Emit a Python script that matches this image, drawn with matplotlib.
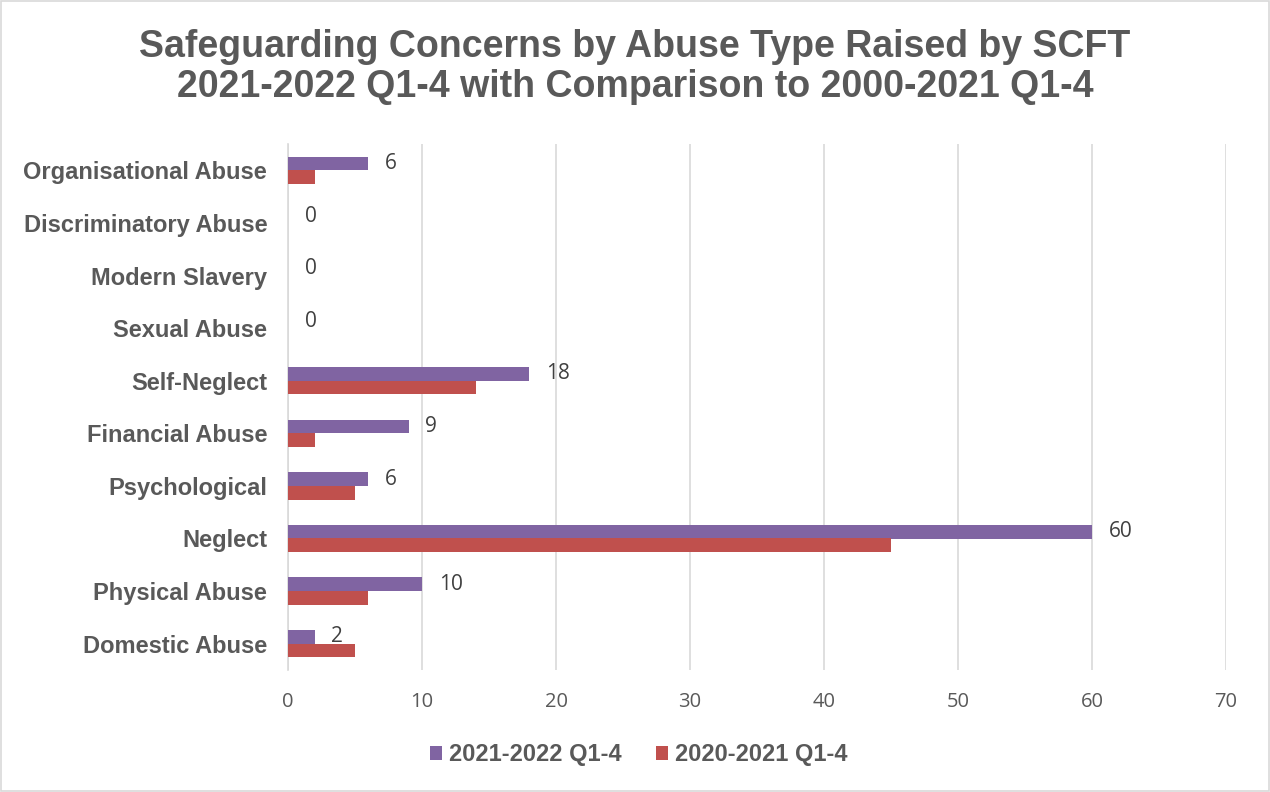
import matplotlib
matplotlib.use("Agg")
import matplotlib.pyplot as plt
import numpy as np

CATEGORIES = [
    "Domestic Abuse", "Physical Abuse", "Neglect", "Psychological",
    "Financial Abuse", "Self-Neglect", "Sexual Abuse", "Modern Slavery",
    "Discriminatory Abuse", "Organisational Abuse",
]
CURRENT = [2, 10, 60, 6, 9, 18, 0, 0, 0, 6]    # 2021-2022 Q1-4
PREVIOUS = [5, 6, 45, 5, 2, 14, 0, 0, 0, 2]    # 2020-2021 Q1-4
X_TICKS = [0, 10, 20, 30, 40, 50, 60, 70]

PURPLE = "#8064A2"
RED = "#C0504D"
GREY = "#595959"
BOLD = ["Liberation Sans", "DejaVu Sans"]
PLAIN = ["Open Sans", "DejaVu Sans"]

fig = plt.figure(figsize=(12.7, 7.92), dpi=100)
ax = fig.add_axes([288 / 1270, 1 - 670 / 792, (1226 - 288) / 1270, (670 - 144) / 792])

y = np.arange(len(CATEGORIES))
h = 0.26
ax.barh(y + h / 2, CURRENT, height=h, color=PURPLE, linewidth=0,
        zorder=3, label="2021-2022 Q1-4")
ax.barh(y - h / 2, PREVIOUS, height=h, color=RED, linewidth=0,
        zorder=3, label="2020-2021 Q1-4")

# value labels for the current year only
for yi, v in zip(y, CURRENT):
    ax.annotate(str(v), (v, yi + h / 2), xytext=(12, 0), textcoords="offset points",
                va="center", ha="left", fontsize=15, color="#404040", family=PLAIN)

ax.set_xlim(0, 70)
ax.set_ylim(-0.5, len(CATEGORIES) - 0.5)
ax.set_xticks(X_TICKS)
ax.set_xticklabels([str(t) for t in X_TICKS], fontsize=14.5, color=GREY, family=PLAIN)
ax.set_yticks(y)
ax.set_yticklabels(CATEGORIES, fontsize=17, fontweight="bold", color=GREY, family=BOLD)
ax.tick_params(axis="both", length=0)
ax.tick_params(axis="x", pad=16)
ax.tick_params(axis="y", pad=15)
ax.grid(axis="x", color="#D9D9D9", linewidth=1.2, zorder=0)
for s in ["top", "right", "bottom"]:
    ax.spines[s].set_visible(False)
ax.spines["left"].set_color("#D9D9D9")
ax.spines["left"].set_linewidth(1.2)

fig.text(0.5, 1 - 67 / 792,
         "Safeguarding Concerns by Abuse Type Raised by SCFT\n"
         "2021-2022 Q1-4 with Comparison to 2000-2021 Q1-4",
         ha="center", va="center", fontsize=27, fontweight="bold", color=GREY,
         family=BOLD, linespacing=1.12)

fig.legend(loc="center", bbox_to_anchor=(0.503, 1 - 755 / 792), ncol=2, frameon=False,
           prop={"family": BOLD, "weight": "bold", "size": 17}, labelcolor=GREY,
           handlelength=0.5, handleheight=0.5, handletextpad=0.3, columnspacing=1.45)

fig.patches.append(plt.Rectangle((0.001, 0.001), 0.998, 0.998, transform=fig.transFigure,
                                 fill=False, edgecolor="#D9D9D9", linewidth=1.2))

fig.savefig("out.png", dpi=100)
